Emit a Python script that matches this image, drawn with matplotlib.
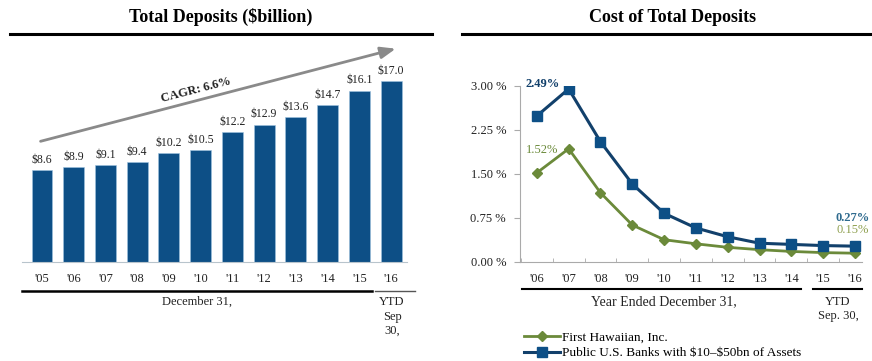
import numpy as np
import matplotlib
matplotlib.use('Agg')
import matplotlib.pyplot as plt
from matplotlib.lines import Line2D

plt.rcParams['font.family'] = ['Liberation Serif', 'DejaVu Serif']

W, H = 872, 361

# total deposits, $bn
dep_years = ["'05", "'06", "'07", "'08", "'09", "'10", "'11", "'12", "'13", "'14", "'15", "'16"]
deposits = [8.6, 8.9, 9.1, 9.4, 10.2, 10.5, 12.2, 12.9, 13.6, 14.7, 16.1, 17.0]
cagr = "CAGR: 6.6%"

# cost of total deposits, %
cost_years = ["'06", "'07", "'08", "'09", "'10", "'11", "'12", "'13", "'14", "'15", "'16"]
first_hawaiian = [1.52, 1.93, 1.18, 0.63, 0.38, 0.31, 0.25, 0.21, 0.18, 0.16, 0.15]
peer_banks = [2.49, 2.95, 2.05, 1.33, 0.83, 0.58, 0.43, 0.32, 0.30, 0.28, 0.27]
yticks = [0.0, 0.75, 1.50, 2.25, 3.00]

BLUE = '#0D4F86'
NAVY = '#12406B'
GREEN = '#6B8A3A'
GRAY = '#8A8A8A'
TXT = '#222222'


def box(x0, y0, x1, y1):
    # pixel box (top-left origin) -> figure fraction rect
    return [x0 / W, 1 - y1 / H, (x1 - x0) / W, (y1 - y0) / H]


def ftext(x, y, s, **kw):
    fig.text(x / W, 1 - y / H, s, **kw)


def hline(x0, x1, y, lw, color='black'):
    fig.add_artist(Line2D([x0 / W, x1 / W], [1 - y / H, 1 - y / H],
                          lw=lw, color=color, transform=fig.transFigure))


fig = plt.figure(figsize=(W / 100, H / 100), dpi=100)

# ---------------- left: total deposits ----------------
ax1 = fig.add_axes(box(22, 40, 407, 262))
x = np.arange(len(deposits))
ax1.bar(x, deposits, width=0.66, color=BLUE, edgecolor='#9FC3E0', linewidth=0.4)
for xi, v in zip(x, deposits):
    ax1.annotate('$%.1f' % v, (xi, v), xytext=(0, 3), textcoords='offset points',
                 ha='center', va='bottom', fontsize=8.5, color=TXT)
ax1.set_xlim(-0.63, 11.5)
ax1.set_ylim(0, 20.85)
ax1.set_xticks(x)
ax1.set_xticklabels(dep_years, fontsize=9, color=TXT)
ax1.tick_params(axis='x', length=0, pad=8)
ax1.set_yticks([])
for s in ['top', 'right', 'left']:
    ax1.spines[s].set_visible(False)
ax1.spines['bottom'].set_color('#B8C4CC')
ax1.spines['bottom'].set_linewidth(0.8)

ax1.annotate('', xy=(11.23, 20.1), xytext=(-0.13, 11.27),
             arrowprops=dict(arrowstyle='-|>,head_length=0.9,head_width=0.35',
                             color=GRAY, lw=2.0), annotation_clip=False)
ax1.text(4.86, 16.15, cagr, rotation=14.5, ha='center', va='center',
         fontsize=9, fontweight='bold', color=TXT)

ftext(221, 17, 'Total Deposits ($billion)', ha='center', va='center',
      fontsize=13, fontweight='bold')
hline(10, 432, 34, 2.2)
hline(22, 372, 291, 1.8)
hline(375, 415, 291, 1.0, '#555555')
ftext(197, 302, 'December 31,', ha='center', va='center', fontsize=9, color=TXT)
ftext(392, 302, 'YTD', ha='center', va='center', fontsize=9, color=TXT)
ftext(392, 317, 'Sep', ha='center', va='center', fontsize=9, color=TXT)
ftext(392, 331, '30,', ha='center', va='center', fontsize=9, color=TXT)

# ---------------- right: cost of deposits ----------------
ax2 = fig.add_axes(box(520, 86, 862, 262))
xc = np.arange(len(cost_years))
l1, = ax2.plot(xc, first_hawaiian, color=GREEN, lw=2.0, marker='D',
               markersize=5, label='First Hawaiian, Inc.')
l2, = ax2.plot(xc, peer_banks, color=NAVY, lw=2.2, marker='s', markersize=7,
               markerfacecolor=BLUE, markeredgecolor=BLUE,
               label='Public U.S. Banks with \\$10\u2013\\$50bn of Assets')
ax2.set_xlim(-0.53, 10.22)
ax2.set_ylim(0, 3.0)
ax2.set_yticks(yticks)
ax2.set_yticklabels(['%.2f %%' % t for t in yticks], fontsize=9, color=TXT)
ax2.set_xticks(xc)
ax2.set_xticklabels(cost_years, fontsize=9, color=TXT)
ax2.set_xticks(np.arange(-0.5, 10.5, 1.0), minor=True)
ax2.tick_params(axis='x', which='major', length=0, pad=8)
ax2.tick_params(axis='x', which='minor', direction='in', length=3, color='#AAAAAA')
ax2.tick_params(axis='y', length=4, color='#AAAAAA', pad=6)
for s in ['top', 'right']:
    ax2.spines[s].set_visible(False)
for s in ['left', 'bottom']:
    ax2.spines[s].set_color('#AAAAAA')
    ax2.spines[s].set_linewidth(0.8)

ax2.annotate('%.2f%%' % peer_banks[0], (0, peer_banks[0]), xytext=(4, 23),
             textcoords='offset points', ha='center', va='center',
             fontsize=9, fontweight='bold', color=NAVY, annotation_clip=False)
ax2.annotate('%.2f%%' % first_hawaiian[0], (0, first_hawaiian[0]), xytext=(4, 16.5),
             textcoords='offset points', ha='center', va='center',
             fontsize=9, color=GREEN, annotation_clip=False)
ax2.annotate('%.2f%%' % peer_banks[-1], (10, peer_banks[-1]), xytext=(-2, 20),
             textcoords='offset points', ha='center', va='center',
             fontsize=9, fontweight='bold', color='#2E6A8E', annotation_clip=False)
ax2.annotate('%.2f%%' % first_hawaiian[-1], (10, first_hawaiian[-1]), xytext=(-2, 17),
             textcoords='offset points', ha='center', va='center',
             fontsize=9, color='#8FA050', annotation_clip=False)

ftext(673, 17, 'Cost of Total Deposits', ha='center', va='center',
      fontsize=13, fontweight='bold')
hline(462, 872, 34, 2.2)
hline(522, 801, 289, 1.5)
hline(813, 862, 289, 1.5)
ftext(664, 302, 'Year Ended December 31,', ha='center', va='center', fontsize=10, color=TXT)
ftext(838, 302, 'YTD', ha='center', va='center', fontsize=9, color=TXT)
ftext(838, 316, 'Sep. 30,', ha='center', va='center', fontsize=9, color=TXT)

fig.legend(handles=[l1, l2], loc='upper left', bbox_to_anchor=(524 / W, 1 - 331 / H),
           frameon=False, fontsize=9.5, handlelength=2.7, handletextpad=0.15,
           labelspacing=0.3, borderpad=0, borderaxespad=0)

fig.savefig('out.png', dpi=100)
